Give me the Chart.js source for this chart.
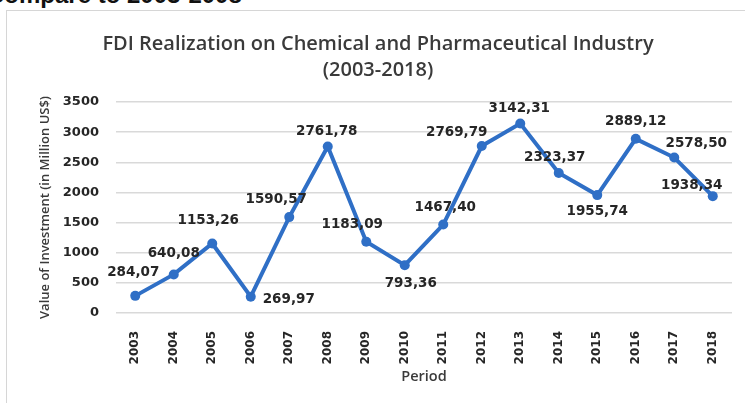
<!DOCTYPE html>
<html>
<head>
<meta charset="utf-8">
<script src="https://cdn.jsdelivr.net/npm/chart.js@4"></script>
<style>
  html, body { margin: 0; padding: 0; background: #fff; overflow: hidden; }
  #wrap { position: relative; width: 745px; height: 403px; overflow: hidden; }
  #cut { position: absolute; left: -13px; top: -17px; font: bold 24px/24px "Liberation Sans", Arial, sans-serif; color: #111; white-space: nowrap; }
  #frame { position: absolute; left: 6px; top: 10px; width: 780px; height: 440px; border: 1.5px solid #d6d6d6; }
  canvas { position: absolute; left: 0; top: 0; }
</style>
</head>
<body>
<div id="wrap">
  <div id="cut">Compare to 2003-2008</div>
  <div id="frame"></div>
  <canvas id="c" width="745" height="403"></canvas>
</div>
<script>
var years = ['2003', '2004', '2005', '2006', '2007', '2008', '2009', '2010',
             '2011', '2012', '2013', '2014', '2015', '2016', '2017', '2018'];
var investment = [284.07, 640.08, 1153.26, 269.97, 1590.57, 2761.78, 1183.09, 793.36,
                  1467.40, 2769.79, 3142.31, 2323.37, 1955.74, 2889.12, 2578.50, 1938.34];
var yTicks = [0, 500, 1000, 1500, 2000, 2500, 3000, 3500];

// label nudges (dx, dy) from each point, like the hand-moved labels in the picture
var labelNudge = [[-2, -23], [0, -21], [-4, -23], [38, 3], [-13, -18], [-1, -15], [-14, -17], [6, 18],
                  [2, -17], [-25, -14], [-1, -15], [-4, -15], [0, 16], [0, -17], [22, -14], [-21, -11]];

var numFont = 'bold 13.5px "DejaVu Sans"';

var pointLabels = {
    id: 'pointLabels',
    afterDatasetsDraw: function(chart) {
	var ctx = chart.ctx;
	var pts = chart.getDatasetMeta(0).data;
	ctx.save();
	ctx.font = numFont;
	ctx.fillStyle = '#262626';
	ctx.textAlign = 'center';
	ctx.textBaseline = 'middle';
	pts.forEach(function(p, i) {
	    var txt = investment[i].toFixed(2).replace('.', ',');
	    ctx.fillText(txt, p.x + labelNudge[i][0], p.y + labelNudge[i][1]);
	});
	ctx.restore();
    }
};

new Chart(document.getElementById('c'), {
    type: 'line',
    data: {
	labels: years,
	datasets: [{
	    data: investment,
	    borderColor: '#2f6fc6',
	    backgroundColor: '#2f6fc6',
	    borderWidth: 4,
	    pointRadius: 5,
	    pointBorderWidth: 0,
	    tension: 0
	}]
    },
    options: {
	responsive: false,
	animation: false,
	layout: { padding: { left: 24, right: 13, top: 0, bottom: 0 } },
	plugins: {
	    legend: { display: false },
	    tooltip: { enabled: false },
	    title: {
		display: true,
		text: ['FDI Realization on Chemical and Pharmaceutical Industry', '(2003-2018)'],
		color: '#3a3a3a',
		font: { family: '"Open Sans"', size: 20, weight: '600', lineHeight: 1.3 },
		padding: { top: 31, bottom: 19 }
	    }
	},
	scales: {
	    x: {
		offset: true,
		grid: { display: false },
		border: { display: false },
		ticks: {
		    minRotation: 90,
		    maxRotation: 90,
		    autoSkip: false,
		    padding: 10,
		    color: '#262626',
		    font: { family: '"DejaVu Sans"', size: 12, weight: 'bold' }
		},
		title: {
		    display: true,
		    text: 'Period',
		    color: '#3a3a3a',
		    font: { family: '"Open Sans"', size: 14.5, weight: '600', lineHeight: 1.2 },
		    padding: { top: 0, bottom: 17 }
		},
		afterFit: function(scale) { scale.height = 90; }
	    },
	    y: {
		min: 0,
		max: 3500,
		afterBuildTicks: function(scale) {
		    scale.ticks = yTicks.map(function(v) { return { value: v }; });
		},
		grid: { color: '#d9d9d9', lineWidth: 1.5, drawTicks: false },
		border: { display: false },
		ticks: {
		    padding: 17,
		    color: '#262626',
		    font: { family: '"DejaVu Sans"', size: 13, weight: 'bold' },
		    callback: function(v) { return String(v); }
		},
		title: {
		    display: true,
		    text: 'Value of Investment (in Million US$)',
		    color: '#3a3a3a',
		    font: { family: '"Open Sans"', size: 13, weight: '600', lineHeight: 1.2 },
		    padding: { top: 13, bottom: 0 }
		},
		afterFit: function(scale) { scale.width = 92; }
	    }
	}
    },
    plugins: [pointLabels]
});
</script>
</body>
</html>
